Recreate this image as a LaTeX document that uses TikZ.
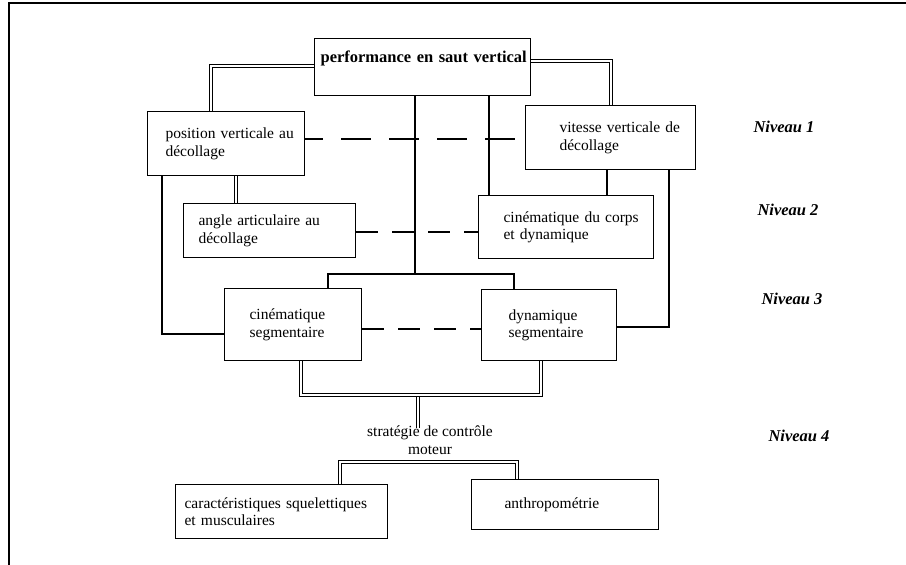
\documentclass[tikz,border=0pt]{standalone}
\usepackage{fontspec}
\setmainfont{Liberation Serif}
\newcommand\txtfont{\fontsize{15.5}{17.5}\selectfont}
\newcommand\topfont{\fontsize{16.5}{18}\selectfont\bfseries}
\newcommand\nivfont{\fontsize{16.5}{18}\selectfont\bfseries\itshape}
\newcommand\ind[1]{\hspace*{#1}}
\begin{document}
\begin{tikzpicture}[x=1pt,y=-1pt,
  box/.style={draw, line width=1.2pt, inner xsep=0pt, inner ysep=0pt, align=left, anchor=north west, font=\txtfont},
  link/.style={line width=1.1pt},
  dbl/.style={double, double distance=2.2pt, line width=1.05pt},
  dshA/.style={line width=1.1pt, dash pattern=on 30pt off 18pt, dash phase=12pt},
  dshB/.style={line width=1.1pt, dash pattern=on 22pt off 14pt},
  niv/.style={font=\nivfont}]
\useasboundingbox (0,0) rectangle (906,565);
% frame
\draw[line width=2.2pt] (9,566) -- (9,3) -- (907,3);

% boxes
\node[box, text width=216pt, text height=24pt, text depth=33pt, font=\topfont] (top) at (314,38) {\ind{6pt}performance en saut vertical};
\node[box, text width=157pt, minimum height=64pt] (pos) at (147,111) {\ind{18pt}position verticale au\\\ind{18pt}décollage};
\node[box, text width=170pt, minimum height=64pt] (vit) at (525,105) {\ind{34pt}vitesse verticale de\\\ind{34pt}décollage};
\node[box, text width=172pt, minimum height=54pt] (ang) at (183,203) {\ind{15pt}angle articulaire au\\\ind{15pt}décollage};
\node[box, text width=175pt, minimum height=63pt] (cinc) at (478,195) {\ind{25pt}cinématique du corps\\\ind{25pt}et dynamique};
\node[box, text width=137pt, minimum height=72pt] (cins) at (224,288) {\ind{25pt}cinématique\\\ind{25pt}segmentaire};
\node[box, text width=135pt, minimum height=71pt] (dyns) at (481,289) {\ind{27pt}dynamique\\\ind{27pt}segmentaire};
\node[font=\txtfont, align=center, inner sep=0pt] (strat) at (430,440) {stratégie de contrôle\\moteur};
\node[box, text width=212pt, minimum height=54pt] (car) at (175,484) {\ind{9pt}caractéristiques squelettiques\\\ind{9pt}et musculaires};
\node[box, text width=187pt, minimum height=50pt] (ant) at (471,479) {\ind{33pt}anthropométrie};

% level labels
\node[niv] (n1) at (784,127) {Niveau 1};
\node[niv] (n2) at (788,210) {Niveau 2};
\node[niv] (n3) at (792,299) {Niveau 3};
\node[niv] (n4) at (799,436) {Niveau 4};

% junction coordinates
\coordinate (tl) at (211,66);
\coordinate (tr) at (611,61);
\coordinate (c1) at (415,274);
\coordinate (c2) at (328,274);
\coordinate (c3) at (514,274);
\coordinate (c4) at (489,150);
\coordinate (c5) at (607,180);
\coordinate (c6) at (669,327);
\coordinate (c7) at (162,334);
\coordinate (c8) at (236,190);
\coordinate (d1) at (0,139);
\coordinate (d2) at (0,232);
\coordinate (d3) at (0,329);
\coordinate (u1) at (301,395);
\coordinate (u2) at (541,395);
\coordinate (u3) at (418,395);
\coordinate (j1) at (340,462);
\coordinate (j2) at (517,462);

% double connectors from the top
\draw[dbl] (top.west |- tl) -- (tl) -- (pos.north -| tl);
\draw[dbl] (top.east |- tr) -- (tr) -- (vit.north -| tr);
% single connectors
\draw[link] (top.south -| c1) -- (c1);
\draw[link] (cins.north -| c2) -- (c2) -- (c3) -- (dyns.north -| c3);
\draw[link] (top.south -| c4) -- (cinc.north -| c4);
\draw[link] (vit.south -| c5) -- (cinc.north -| c5);
\draw[link] (vit.south -| c6) -- (c6) -- (dyns.east |- c6);
\draw[link] (pos.south -| c7) -- (c7) -- (cins.west |- c7);
\draw[dbl] (pos.south -| c8) -- (ang.north -| c8);
% dashed relations
\draw[dshA] (pos.east |- d1) -- (vit.west |- d1);
\draw[dshB] (ang.east |- d2) -- (cinc.west |- d2);
\draw[dshB] (cins.east |- d3) -- (dyns.west |- d3);
% lower double connectors
\draw[dbl] (u3) -- ([yshift=-2pt]strat.north -| u3);
\draw[dbl] (cins.south -| u1) -- (u1) -- (u2) -- (dyns.south -| u2);
\draw[dbl] (car.north -| j1) -- (j1) -- (j2) -- (ant.north -| j2);
\end{tikzpicture}
\end{document}
